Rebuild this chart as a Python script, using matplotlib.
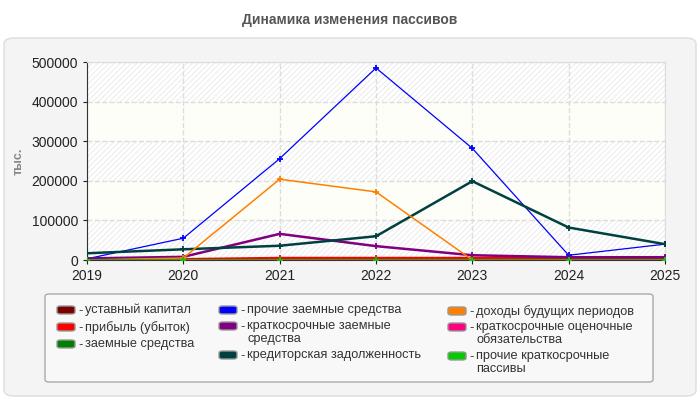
import numpy as np
import matplotlib.pyplot as plt
from matplotlib.patches import FancyBboxPatch

plt.rcParams['font.family'] = ['Liberation Sans', 'DejaVu Sans']
plt.rcParams['hatch.linewidth'] = 0.6

years = [2019, 2020, 2021, 2022, 2023, 2024, 2025]

ustavny = [100, 100, 100, 100, 100, 100, 100]
pribyl = [3000, 2000, 5000, 5000, 5000, 5000, 4000]
zaemnye = [0, 0, 0, 0, 0, 0, 0]
prochie_zaemnye = [3000, 55000, 256000, 485000, 282000, 12000, 40000]
kratk_zaemnye = [4000, 8000, 66000, 35000, 12000, 7000, 7000]
kreditorskaya = [17000, 27000, 36000, 60000, 199000, 82000, 40000]
dohody = [0, 5000, 204000, 172000, 0, 0, 0]
ocenochnye = [1000, 1000, 1000, 1000, 1000, 1000, 1000]
prochie_kratk = [0, 0, 0, 0, 0, 0, 0]

series = [
    (ustavny, '#7b0000', 'уставный капитал', 1.8),
    (pribyl, '#ff0000', 'прибыль (убыток)', 1.8),
    (zaemnye, '#008000', 'заемные средства', 1.8),
    (prochie_zaemnye, '#0000ff', 'прочие заемные средства', 0.9),
    (kratk_zaemnye, '#800080', 'краткосрочные заемные\nсредства', 1.8),
    (kreditorskaya, '#004040', 'кредиторская задолженность', 1.8),
    (dohody, '#ff8000', 'доходы будущих периодов', 1.1),
    (ocenochnye, '#ff0080', 'краткосрочные оценочные\nобязательства', 1.3),
    (prochie_kratk, '#00cc00', 'прочие краткосрочные\nпассивы', 1.8),
]

fig = plt.figure(figsize=(7, 4), dpi=100)
fig.patch.set_facecolor('white')

W, H = 700.0, 400.0

def fx(px):
    return px / W

def fy(py):
    return 1 - py / H

panel = FancyBboxPatch((fx(4), fy(396)), fx(692), 358 / H,
                       boxstyle='round,pad=0,rounding_size=0.015',
                       transform=fig.transFigure, facecolor='#f4f4f4', edgecolor='#dddddd',
                       linewidth=1, zorder=-10)
fig.patches.append(panel)

fig.text(0.5, fy(20), 'Динамика изменения пассивов', ha='center', va='center',
         fontsize=10, fontweight='bold', color='#555555')

ax = fig.add_axes([fx(87), fy(260), fx(578), 198 / H])
ax.set_facecolor('#fefef8')
for lo in [0, 200000, 400000]:
    ax.axhspan(lo, lo + 100000, facecolor='white', edgecolor='#e8e8e8', hatch='//////',
               linewidth=0, zorder=0)

for vals, color, label, lw in series:
    ax.plot(years, vals, color=color, linewidth=lw, marker='+', markersize=5,
            markeredgewidth=1.3, zorder=3)

ax.set_xlim(2019, 2025)
ax.set_ylim(0, 500000)
ax.set_xticks(years)
ax.set_yticks(np.arange(0, 500001, 100000))
ax.grid(True, color='#dddddd', linestyle='--', linewidth=1, zorder=1)
ax.set_axisbelow(True)
ax.tick_params(labelsize=10, colors='#222222', length=3)
for s in ['top', 'right']:
    ax.spines[s].set_color('#dddddd')
for s in ['left', 'bottom']:
    ax.spines[s].set_color('#333333')
ax.set_ylabel('тыс.', fontsize=9, fontweight='bold', color='#888888', labelpad=5)

# legend drawn by hand (hanging indent for wrapped labels)
leg_box = FancyBboxPatch((fx(45), fy(382)), fx(608), 88 / H,
                         boxstyle='round,pad=0,rounding_size=0.006',
                         transform=fig.transFigure, facecolor='#f8f8f8',
                         edgecolor='#aaaaaa', linewidth=1, zorder=5)
fig.patches.append(leg_box)

col_x = [57, 219, 448]
row_y = [[310, 327, 344], [310, 326, 355], [311, 327, 356]]
for i, (vals, color, label, lw) in enumerate(series):
    c, r = divmod(i, 3)
    x0, y0 = col_x[c], row_y[c][r]
    h = FancyBboxPatch((fx(x0), fy(y0 + 4)), fx(18), 8 / H,
                       boxstyle='round,pad=0,rounding_size=0.005',
                       transform=fig.transFigure, facecolor=color,
                       edgecolor='#999999', linewidth=1, zorder=6)
    fig.patches.append(h)
    fig.text(fx(x0 + 21), fy(y0 + 1), '-', ha='left', va='center', fontsize=9.2,
             color='#333333', zorder=7)
    fig.text(fx(x0 + 28), fy(y0 - 6), label, ha='left', va='top', fontsize=9.2,
             color='#333333', linespacing=1.1, zorder=7)

plt.savefig('out.png', dpi=100)
